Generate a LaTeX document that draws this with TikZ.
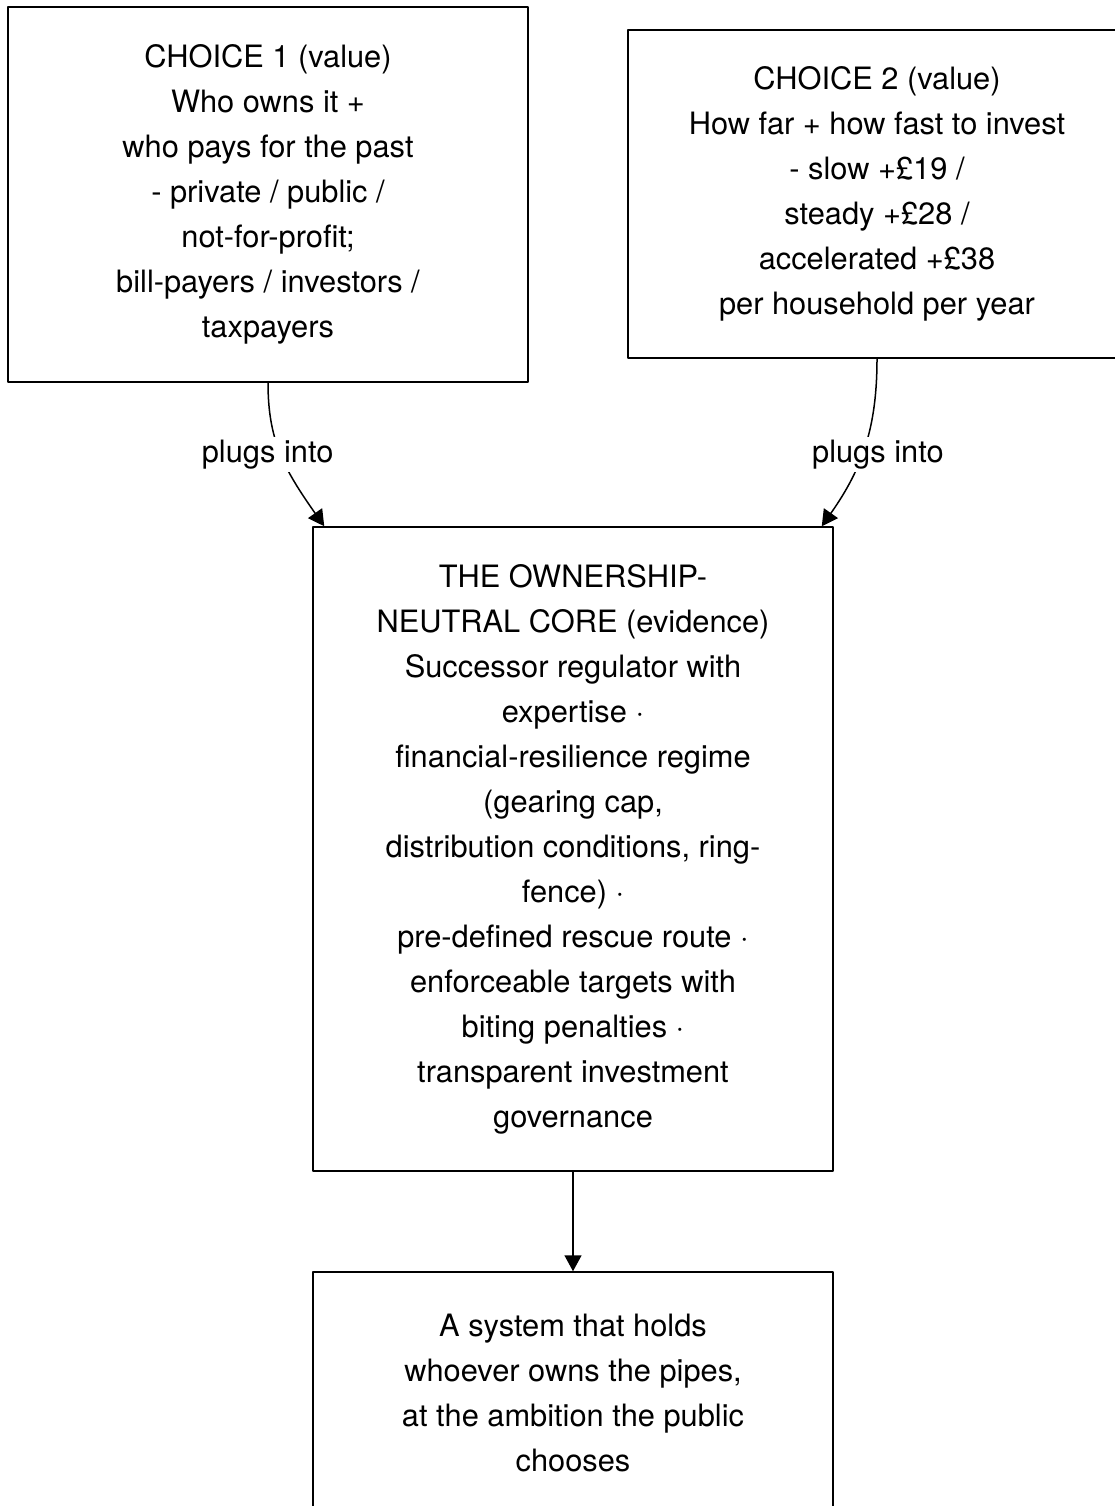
\documentclass[tikz,border=0pt]{standalone}
\usepackage{fontspec}
\setmainfont{TeX Gyre Heros}
\usetikzlibrary{arrows.meta,calc}
\begin{document}
\begin{tikzpicture}[x=1pt,y=-1pt,>={Triangle[width=17pt,length=16pt]},line join=round,
	font=\fontsize{30.8}{45}\selectfont,
	box/.style={draw,line width=1.5pt,align=center,inner sep=0pt},
	link/.style={line width=1.5pt},
	tag/.style={fill=white,inner sep=3pt}]
	\useasboundingbox (0,0) rectangle (1115,1506);
	\node[box,minimum width=520pt,minimum height=375pt] (choiceA) at (268,194.5) {CHOICE 1 (value)\\Who owns it +\\who pays for the past\\ - private / public /\\not-for-profit;\\bill-payers / investors /\\taxpayers};
	\node[box,minimum width=498pt,minimum height=328pt] (choiceB) at (877,194) {CHOICE 2 (value)\\How far + how fast to invest\\- slow +£19 /\\steady +£28 /\\accelerated +£38\\per household per year};
	\node[box,minimum width=520pt,minimum height=644pt] (core) at (573,849) {THE OWNERSHIP-\\NEUTRAL CORE (evidence)\\Successor regulator with\\expertise ·\\financial-resilience regime\\(gearing cap,\\distribution conditions, ring-\\fence) ·\\pre-defined rescue route ·\\enforceable targets with\\biting penalties ·\\transparent investment\\governance};
	\node[box,minimum width=520pt,minimum height=241pt] (result) at (573,1392.5) {A system that holds\\whoever owns the pipes,\\at the ambition the public\\chooses};
	\coordinate (inA) at ($(core.north west)+(12,0)$);
	\coordinate (inB) at ($(core.north east)+(-12,0)$);
	\draw[link,->] (choiceA.south) .. controls +(0,58) and +(-40,-57) .. (inA) node[tag,pos=0.5,xshift=-13.5pt] {plugs into};
	\draw[link,->] (choiceB.south) .. controls +(0,70) and +(40,-57) .. (inB) node[tag,pos=0.5,xshift=13.5pt,yshift=-7pt] {plugs into};
	\draw[link,->] (core.south) -- (result.north);
\end{tikzpicture}
\end{document}
